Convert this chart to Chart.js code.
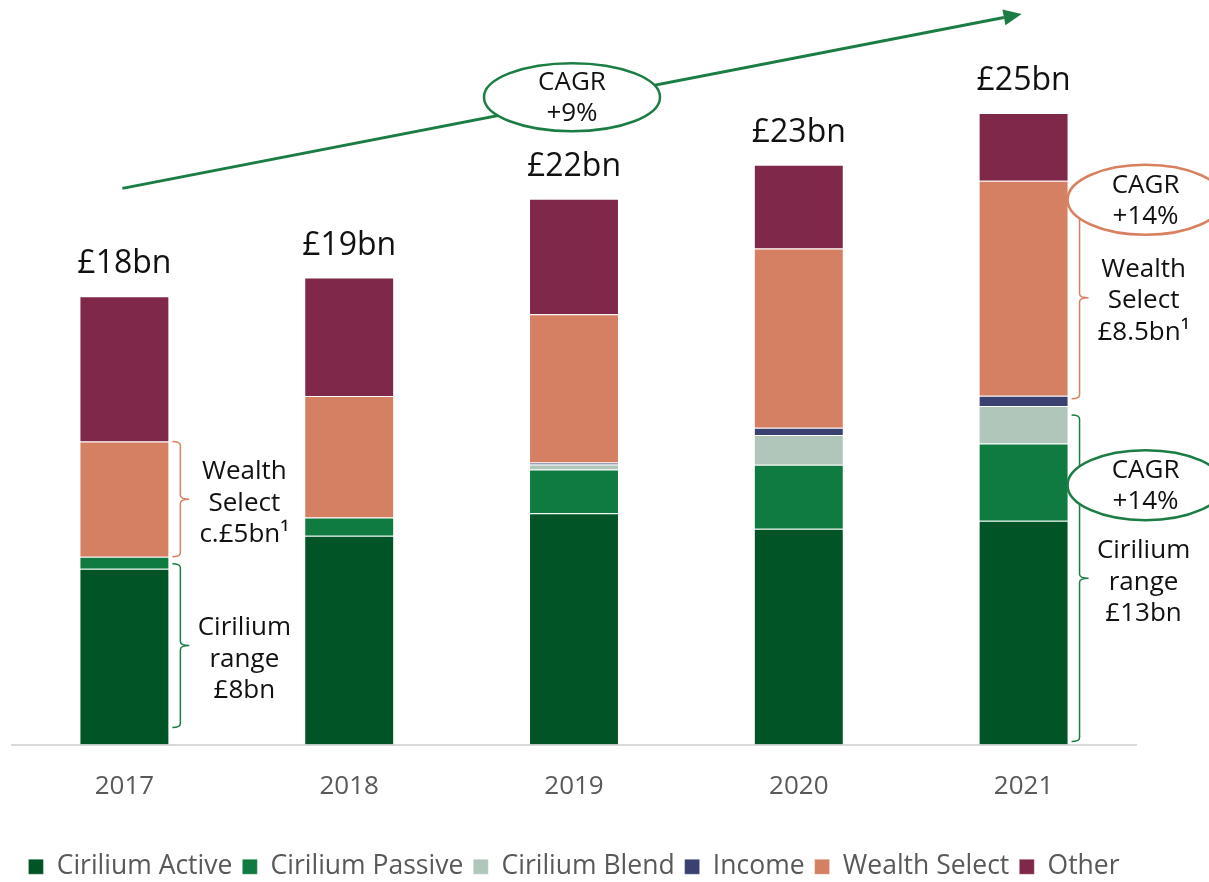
<!DOCTYPE html>
<html>
<head>
<meta charset="utf-8">
<script src="https://cdn.jsdelivr.net/npm/chart.js@4.4.0/dist/chart.umd.min.js"></script>
<style>
html, body { margin: 0; padding: 0; background: #fff; }
#wrap { width: 1209px; height: 882px; }
</style>
</head>
<body>
<div id="wrap"><canvas id="aum"></canvas></div>
<script>
// AUM by product, £bn
const years = ['2017', '2018', '2019', '2020', '2021']
const cirActive = [7.06, 8.38, 9.28, 8.66, 8.98]
const cirPassive = [0.48, 0.73, 1.76, 2.57, 3.10]
const cirBlend = [0, 0, 0.20, 1.19, 1.51]
const income = [0, 0, 0.08, 0.30, 0.41]
const wealthSelect = [4.62, 4.88, 5.95, 7.19, 8.63]
const other = [5.83, 4.76, 4.64, 3.36, 2.72]
const totalLabels = ['£18bn', '£19bn', '£22bn', '£23bn', '£25bn']

const green = '#1b7d43'
const orange = '#d8805f'

// brackets on the right of a bar: dataset range lo..hi
const brackets = [
	{ bar: 0, lo: 4, hi: 4, inTop: 0, inBot: 0, color: orange, lines: ['Wealth', 'Select', 'c.£5bn¹'], shift: 4 },
	{ bar: 0, lo: 0, hi: 2, inTop: 7, inBot: 17, color: green, lines: ['Cirilium', 'range', '£8bn'], shift: 14 },
	{ bar: 4, lo: 4, hi: 4, inTop: 16, inBot: -3, color: orange, lines: ['Wealth', 'Select', '£8.5bn¹'], shift: 3, cagr: 'CAGR|+14%', cagrDy: -101 },
	{ bar: 4, lo: 0, hi: 2, inTop: 9, inBot: 3, color: green, lines: ['Cirilium', 'range', '£13bn'], shift: 4, cagr: 'CAGR|+14%', cagrDy: -97 }
]

function textBlock(c, lines, x, yMid, lh) {
	const y0 = yMid - (lines.length - 1) * lh / 2
	lines.forEach((t, i) => c.fillText(t, x, y0 + i * lh))
}

function cagrEllipse(c, cx, cy, rx, ry, color, text) {
	c.beginPath()
	c.ellipse(cx, cy, rx, ry, 0, 0, Math.PI * 2)
	c.fillStyle = '#fff'
	c.fill()
	c.lineWidth = 2.5
	c.strokeStyle = color
	c.stroke()
	c.fillStyle = '#111'
	textBlock(c, text.split('|'), cx, cy + 1, 31)
}

const annotations = {
	id: 'annotations',
	afterDraw(chart) {
		const c = chart.ctx
		const bars = i => chart.getDatasetMeta(i).data
		c.save()
		c.textAlign = 'center'
		c.textBaseline = 'middle'

		// totals above bars
		c.font = '32px "Open Sans"'
		c.fillStyle = '#111'
		bars(5).forEach((b, i) => c.fillText(totalLabels[i], b.x, b.y - 32))

		// overall CAGR arrow
		const first = bars(5)[0], last = bars(5)[4]
		const sx = first.x - 2, sy = first.y - 108
		const ex = last.x - 2, ey = last.y - 99
		const ang = Math.atan2(ey - sy, ex - sx)
		const hl = 18, hw = 8
		const bx = ex - hl * Math.cos(ang), by = ey - hl * Math.sin(ang)
		c.beginPath()
		c.moveTo(sx, sy)
		c.lineTo(bx, by)
		c.lineWidth = 3
		c.strokeStyle = green
		c.stroke()
		c.beginPath()
		c.moveTo(ex, ey)
		c.lineTo(bx + hw * Math.sin(ang), by - hw * Math.cos(ang))
		c.lineTo(bx - hw * Math.sin(ang), by + hw * Math.cos(ang))
		c.closePath()
		c.fillStyle = green
		c.fill()
		const mx = bars(5)[2].x - 2
		const my = sy + (mx - sx) * Math.tan(ang) - 4
		c.font = '26px "Open Sans"'
		cagrEllipse(c, mx, my, 88, 34, green, 'CAGR|+9%')

		// brackets
		brackets.forEach(br => {
			const top = bars(br.hi)[br.bar].y + br.inTop
			const bot = bars(br.lo)[br.bar].base - br.inBot
			const right = bars(0)[br.bar].x + bars(0)[br.bar].width / 2
			const x0 = right + 3, xv = right + 11, xt = right + 20, r = 4
			const mid = (top + bot) / 2
			c.beginPath()
			c.moveTo(x0, top)
			c.quadraticCurveTo(xv, top, xv, top + r)
			c.lineTo(xv, mid - r)
			c.quadraticCurveTo(xv, mid, xt, mid)
			c.moveTo(xt, mid)
			c.quadraticCurveTo(xv, mid, xv, mid + r)
			c.lineTo(xv, bot - r)
			c.quadraticCurveTo(xv, bot, x0, bot)
			c.lineWidth = 1.5
			c.strokeStyle = br.color
			c.stroke()
			c.font = '26px "Open Sans"'
			c.fillStyle = '#111'
			textBlock(c, br.lines, right + 75, mid + br.shift, 31.5)
			if (br.cagr) {
				cagrEllipse(c, right + 77, mid + br.shift + br.cagrDy, 78, 35, br.color, br.cagr)
			}
		})
		c.restore()
	}
}

const series = [
	['Cirilium Active', cirActive, '#005426'],
	['Cirilium Passive', cirPassive, '#107b40'],
	['Cirilium Blend', cirBlend, '#b0c6ba'],
	['Income', income, '#3a4171'],
	['Wealth Select', wealthSelect, '#d68063'],
	['Other', other, '#7f284a']
]

const aumChart = new Chart(document.getElementById('aum'), {
	type: 'bar',
	data: {
		labels: years,
		datasets: series.map(s => ({
			label: s[0],
			data: s[1],
			backgroundColor: s[2],
			borderColor: 'rgba(255,255,255,0.3)',
			borderWidth: 1,
			categoryPercentage: 1,
			barPercentage: 0.4
		}))
	},
	options: {
		responsive: true,
		maintainAspectRatio: false,
		animation: false,
		layout: { padding: { top: 47, left: 12, right: 73, bottom: -8 } },
		scales: {
			x: {
				stacked: true,
				grid: { display: false, drawTicks: false },
				border: { display: true, color: '#d9d9d9', width: 2 },
				ticks: { color: '#595959', font: { family: 'Open Sans', size: 26 }, padding: 26 },
				afterFit(scale) { scale.height = 99 }
			},
			y: { stacked: true, display: false, min: 0, max: 28 }
		},
		plugins: {
			legend: {
				position: 'bottom',
				labels: {
					color: '#595959',
					font: { family: 'Open Sans', size: 26.5 },
					boxWidth: 15,
					boxHeight: 15,
					padding: 10
				}
			},
			tooltip: { enabled: false }
		}
	},
	plugins: [annotations]
})
</script>
</body>
</html>
